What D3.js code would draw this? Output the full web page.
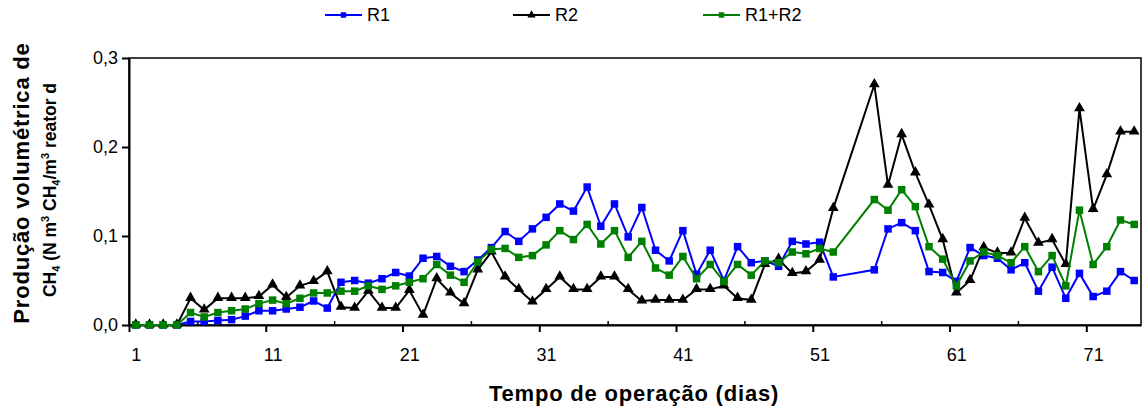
<!DOCTYPE html>
<html>
<head>
<meta charset="utf-8">
<script src="https://cdn.jsdelivr.net/npm/d3@7"></script>
<style>
  body { margin: 0; background: #fff; }
  svg text { font-family: "Liberation Sans", Arial, sans-serif; }
</style>
</head>
<body>
<div id="chart"></div>
<script>
// days of operation (categories), 53 and 54 have no measurement
var days = d3.range(1, 75);
var xLabels = [1, 11, 21, 31, 41, 51, 61, 71];
var yTicks = [0, 0.1, 0.2, 0.3];

var r1 = [0, 0, 0, 0, 0.004, 0.004, 0.005, 0.006, 0.010, 0.016,
  0.016, 0.018, 0.020, 0.027, 0.019, 0.048, 0.050, 0.047, 0.052, 0.059,
  0.055, 0.075, 0.077, 0.066, 0.060, 0.073, 0.087, 0.105, 0.094, 0.108,
  0.121, 0.136, 0.128, 0.155, 0.111, 0.136, 0.099, 0.132, 0.084, 0.072,
  0.106, 0.057, 0.084, 0.050, 0.088, 0.070, 0.072, 0.066, 0.094, 0.091,
  0.093, 0.054, null, null, 0.062, 0.108, 0.115, 0.106, 0.060, 0.059,
  0.049, 0.087, 0.078, 0.075, 0.062, 0.070, 0.038, 0.065, 0.030, 0.058,
  0.032, 0.038, 0.060, 0.050];

var r2 = [0, 0, 0, 0, 0.030, 0.017, 0.030, 0.030, 0.030, 0.032,
  0.045, 0.031, 0.044, 0.049, 0.060, 0.020, 0.019, 0.038, 0.019, 0.019,
  0.039, 0.011, 0.052, 0.036, 0.024, 0.062, 0.082, 0.054, 0.040, 0.026,
  0.040, 0.054, 0.040, 0.040, 0.054, 0.054, 0.040, 0.027, 0.028, 0.028,
  0.028, 0.040, 0.040, 0.044, 0.030, 0.028, 0.068, 0.074, 0.058, 0.060,
  0.073, 0.131, null, null, 0.270, 0.157, 0.214, 0.171, 0.135, 0.096,
  0.036, 0.050, 0.087, 0.081, 0.081, 0.120, 0.092, 0.096, 0.068, 0.243,
  0.130, 0.169, 0.217, 0.217];

var r1r2 = [0, 0, 0, 0, 0.014, 0.009, 0.014, 0.016, 0.018, 0.024,
  0.028, 0.024, 0.030, 0.036, 0.036, 0.038, 0.038, 0.044, 0.040, 0.044,
  0.048, 0.052, 0.068, 0.056, 0.048, 0.071, 0.085, 0.086, 0.076, 0.078,
  0.090, 0.106, 0.096, 0.113, 0.091, 0.106, 0.076, 0.094, 0.064, 0.056,
  0.077, 0.052, 0.068, 0.049, 0.068, 0.056, 0.072, 0.070, 0.082, 0.080,
  0.086, 0.082, null, null, 0.141, 0.129, 0.152, 0.133, 0.088, 0.074,
  0.044, 0.072, 0.082, 0.078, 0.070, 0.088, 0.060, 0.078, 0.044, 0.129,
  0.068, 0.088, 0.118, 0.113];

var series = [
  {name: "R1", values: r1, color: "#0000ff", shape: "square"},
  {name: "R2", values: r2, color: "#000000", shape: "triangle"},
  {name: "R1+R2", values: r1r2, color: "#008000", shape: "square"}
];

var W = 1142, H = 410;
var margin = {top: 58, right: 1, bottom: 85, left: 129};
var width = W - margin.left - margin.right,
    height = H - margin.top - margin.bottom;

var svg = d3.select("#chart").append("svg")
    .attr("width", W)
    .attr("height", H);

var g = svg.append("g")
    .attr("transform", "translate(" + margin.left + "," + margin.top + ")");

// category axis: each day takes one slot, points sit in the middle of it
var x = d3.scaleLinear()
    .domain([0.5, days.length + 0.5])
    .range([0, width]);
var y = d3.scaleLinear()
    .domain([0, 0.3])
    .range([height, 0]);

var commaFmt = function(d) { return d3.format(".1f")(d).replace(".", ","); };

// plot frame
g.append("rect")
    .attr("width", width)
    .attr("height", height)
    .attr("fill", "none")
    .attr("stroke", "#000")
    .attr("stroke-width", 1.5);

// y axis
var yAxis = g.append("g")
    .call(d3.axisLeft(y).tickValues(yTicks).tickFormat(commaFmt).tickSize(7).tickPadding(4).tickSizeOuter(0));
yAxis.select(".domain").attr("stroke-width", 2);
yAxis.selectAll(".tick line").attr("stroke-width", 2);
yAxis.selectAll("text").attr("font-size", 18).attr("fill", "#000");

// x axis: major ticks between categories, labels under the categories
var majors = d3.range(0, 8).map(function(i) { return i * 10 + 0.5; });
var minors = d3.range(0, 8).map(function(i) { return i * 10 + 5.5; });

var xAxis = g.append("g")
    .attr("transform", "translate(0," + height + ")")
    .call(d3.axisBottom(x).tickValues(majors).tickFormat("").tickSize(7).tickSizeOuter(0));
xAxis.select(".domain").attr("stroke-width", 2);
xAxis.selectAll(".tick line").attr("stroke-width", 2);

g.append("g")
    .attr("transform", "translate(0," + height + ")")
    .call(d3.axisBottom(x).tickValues(minors).tickFormat("").tickSize(-4).tickSizeOuter(0))
    .call(function(a) { a.select(".domain").remove(); })
    .selectAll(".tick line").attr("stroke-width", 1.5);

g.append("g")
    .attr("transform", "translate(0," + height + ")")
    .call(d3.axisBottom(x).tickValues(xLabels).tickFormat(d3.format("d")).tickSize(0).tickPadding(23))
    .call(function(a) { a.select(".domain").remove(); })
    .selectAll("text").attr("font-size", 18).attr("fill", "#000");

// lines, skipping the missing days but joining across them
var line = d3.line()
    .x(function(d) { return x(d.day); })
    .y(function(d) { return y(d.v); });

var triangle = d3.symbol().type(d3.symbolTriangle).size(50);

series.forEach(function(s) {
  var pts = days.map(function(d, i) { return {day: d, v: s.values[i]}; })
      .filter(function(p) { return p.v !== null; });

  g.append("path")
      .datum(pts)
      .attr("fill", "none")
      .attr("stroke", s.color)
      .attr("stroke-width", 2)
      .attr("d", line);

  var m = g.append("g").selectAll("g.pt")
      .data(pts)
      .enter();
  if (s.shape === "square") {
    m.append("rect")
        .attr("x", function(d) { return x(d.day) - 3.75; })
        .attr("y", function(d) { return y(d.v) - 3.75; })
        .attr("width", 7.5)
        .attr("height", 7.5)
        .attr("fill", s.color);
  } else {
    m.append("path")
        .attr("d", triangle)
        .attr("transform", function(d) { return "translate(" + x(d.day) + "," + (y(d.v) - 0.5) + ")"; })
        .attr("fill", s.color);
  }
});

// legend
var legendX = [325, 513, 703];
var legend = svg.selectAll(".legend")
    .data(series)
  .enter().append("g")
    .attr("class", "legend")
    .attr("transform", function(d, i) { return "translate(" + legendX[i] + ",15)"; });

legend.append("line")
    .attr("x1", 0).attr("x2", 37)
    .attr("stroke", function(d) { return d.color; })
    .attr("stroke-width", 2);

legend.append("path")
    .attr("d", function(d) {
      return d.shape === "square"
        ? d3.symbol().type(d3.symbolSquare).size(30)()
        : d3.symbol().type(d3.symbolTriangle).size(30)();
    })
    .attr("transform", "translate(18.5,0)")
    .attr("fill", function(d) { return d.color; });

legend.append("text")
    .attr("x", 42)
    .attr("dy", "0.35em")
    .attr("font-size", 18)
    .text(function(d) { return d.name; });

// axis titles
svg.append("text")
    .attr("x", 634)
    .attr("y", 401)
    .attr("text-anchor", "middle")
    .attr("font-size", 22)
    .attr("font-weight", "bold")
    .attr("letter-spacing", 0.8)
    .text("Tempo de operação (dias)");

svg.append("text")
    .attr("transform", "translate(29,183) rotate(-90)")
    .attr("text-anchor", "middle")
    .attr("font-size", 22)
    .attr("font-weight", "bold")
    .attr("letter-spacing", 0.8)
    .text("Produção volumétrica de");

var yt2 = svg.append("text")
    .attr("transform", "translate(56,190) rotate(-90)")
    .attr("text-anchor", "middle")
    .attr("font-size", 17.5)
    .attr("font-weight", "bold");
yt2.append("tspan").text("CH");
yt2.append("tspan").attr("font-size", 11).attr("dy", 4).text("4");
yt2.append("tspan").attr("dy", -4).text(" (N m");
yt2.append("tspan").attr("font-size", 11).attr("dy", -7).text("3");
yt2.append("tspan").attr("dy", 7).text(" CH");
yt2.append("tspan").attr("font-size", 11).attr("dy", 4).text("4");
yt2.append("tspan").attr("dy", -4).text("/m");
yt2.append("tspan").attr("font-size", 11).attr("dy", -7).text("3");
yt2.append("tspan").attr("dy", 7).text(" reator d");
</script>
</body>
</html>
